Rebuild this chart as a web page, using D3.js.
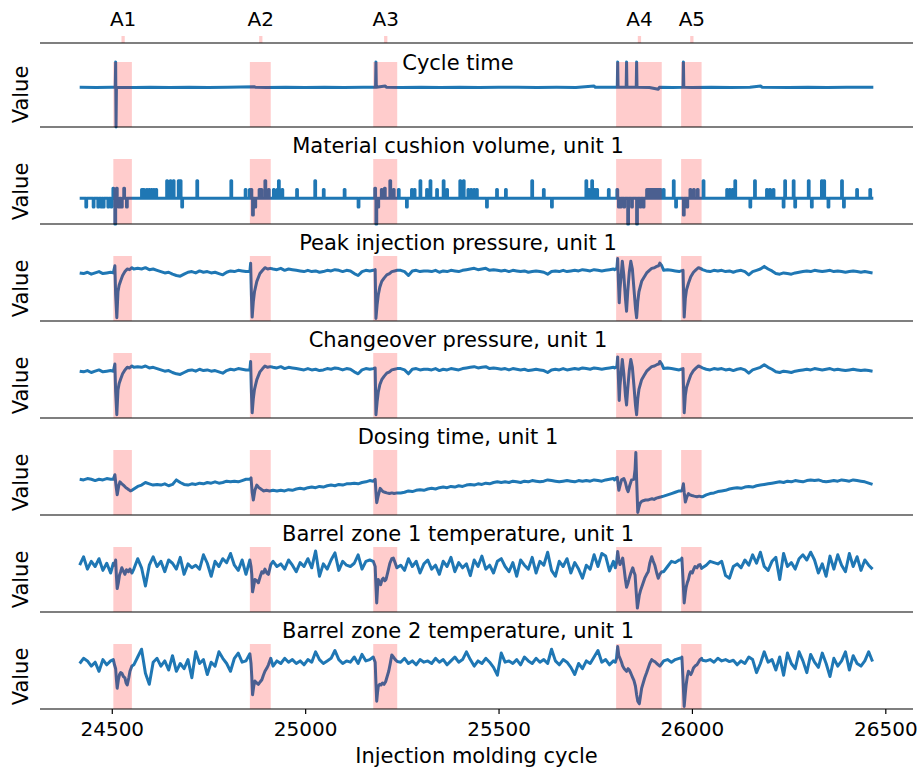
<!DOCTYPE html>
<html lang="en">
<head>
<meta charset="UTF-8">
<title>Anomalies in injection molding cycles</title>
<script src="https://d3js.org/d3.v7.min.js"></script>
<style>
    body { margin: 0; background: #fff; }
    text { font-family: "DejaVu Sans", sans-serif; fill: #000; }
    .series { fill: none; stroke: #1f77b4; stroke-width: 3; stroke-linejoin: round; }
    .spine { stroke: #000; stroke-width: 1.2; }
</style>
</head>
<body>
<svg width="919" height="776"></svg>
<script>
// first and last molding cycle shown, uniform series are sampled every 10 cycles
const cycleStart = 24417
const cycleEnd = 26469
const cycleStep = 10

// anomaly windows (cycles) and their names
const anomalies = [[24504, 24552], [24857, 24911], [25176, 25238], [25804, 25922], [25972, 26025]]
const anomalyNames = ["A1", "A2", "A3", "A4", "A5"]

const xTicks = [24500, 25000, 25500, 26000, 26500]

const titles = [
    "Cycle time",
    "Material cushion volume, unit 1",
    "Peak injection pressure, unit 1",
    "Changeover pressure, unit 1",
    "Dosing time, unit 1",
    "Barrel zone 1 temperature, unit 1",
    "Barrel zone 2 temperature, unit 1"
]

// cycle time: [cycle, value]
const cycleTime = [[24417,61],[24460,60.6],[24500,61.2],[24509,61],[24510,100],[24511,0],[24512,61],[24560,60.7],[24600,61.3],
    [24650,60.8],[24700,61.2],[24750,60.7],[24800,61],[24868,62],[24872,61],[24900,60.6],[24950,61.3],[25000,60.8],[25050,61.2],
    [25100,60.7],[25150,61],[25182,61],[25183,100],[25184,61],[25207,63],[25210,61],[25250,60.7],[25300,61.2],[25350,60.8],
    [25400,61.3],[25450,60.7],[25500,61],[25550,61.2],[25600,60.7],[25650,61],[25700,60.8],[25747,63],[25750,61],[25807,61],
    [25808,100],[25809,61],[25830,61],[25831,100],[25832,61],[25856,61],[25857,100],[25858,61],[25890,60.8],[25913,58],[25916,61],
    [25950,60.8],[25977,61],[25978,100],[25979,61],[26000,60.7],[26050,61.2],[26100,60.8],[26150,61.2],[26178,63],[26181,61],
    [26250,60.7],[26300,61.2],[26350,60.8],[26400,61.2],[26469,61]]

// material cushion volume: step levels [cycle, value]
const cushion = [[24417,39.5],
    [24433,26],[24435,39.5],[24452,26],[24454,39.5],[24464,26],[24466,39.5],[24472,26],[24474,39.5],[24478,26],[24480,39.5],
    [24490,26],[24492,39.5],[24498,26],[24500,39.5],
    [24503,55],[24505,39.5],[24508,0],[24510,39.5],[24512,55],[24514,39.5],[24517,26],[24520,39.5],[24524,26],[24527,39.5],
    [24531,55],[24533,39.5],[24538,26],[24540,39.5],
    [24577,53],[24579,39.5],[24582,53],[24584,39.5],[24590,53],[24592,39.5],[24596,53],[24598,39.5],[24602,53],[24604,39.5],
    [24608,53],[24610,39.5],[24614,53],[24616,39.5],
    [24642,66.6],[24644,39.5],[24651,66.6],[24653,39.5],[24659,66.6],[24661,39.5],[24672,66.6],[24674,39.5],[24677,66.6],[24679,39.5],
    [24681,26],[24683,39.5],[24720,66.6],[24722,39.5],[24808,66.6],[24810,39.5],[24845,53],[24847,39.5],[24856,53],[24858,39.5],
    [24860,53],[24862,39.5],[24864,14],[24866,39.5],[24870,26],[24872,39.5],[24881,53],[24883,39.5],[24886,53],[24888,39.5],
    [24896,66.6],[24898,39.5],[24905,53],[24907,39.5],
    [24918,53],[24920,39.5],[24927,53],[24929,39.5],[24931,66.6],[24933,39.5],[24940,53],[24942,39.5],[24978,53],[24980,39.5],
    [25025,66.6],[25027,39.5],[25047,53],[25049,39.5],[25101,53],[25103,39.5],[25137,26],[25139,39.5],
    [25180,55],[25182,39.5],[25183,0],[25185,39.5],[25188,26],[25190,39.5],[25197,53],[25199,39.5],[25205,55],[25207,39.5],
    [25219,66.6],[25221,39.5],[25228,53],[25230,39.5],
    [25241,53],[25243,39.5],[25262,26],[25264,39.5],[25275,53],[25277,39.5],[25282,53],[25284,39.5],[25297,66.6],[25299,39.5],
    [25314,53],[25316,39.5],[25323,66.6],[25325,39.5],[25340,53],[25342,39.5],[25357,66.6],[25359,39.5],[25366,53],[25368,39.5],
    [25400,66.6],[25402,39.5],[25409,66.6],[25411,39.5],[25421,53],[25423,39.5],[25428,53],[25430,39.5],[25436,53],[25438,39.5],
    [25443,53],[25445,39.5],[25469,26],[25471,39.5],[25495,53],[25497,39.5],[25518,53],[25520,39.5],[25586,66.6],[25588,39.5],
    [25616,53],[25618,39.5],[25637,26],[25639,39.5],[25726,66.6],[25728,39.5],[25733,53],[25735,39.5],[25741,66.6],[25743,39.5],
    [25748,53],[25750,39.5],[25754,53],[25756,39.5],[25784,53],[25786,39.5],
    [25806,53],[25808,39.5],[25810,26],[25812,39.5],[25815,26],[25817,39.5],[25824,26],[25826,39.5],[25834,0],[25836,39.5],
    [25844,26],[25846,39.5],[25857,0],[25859,39.5],[25866,26],[25868,39.5],[25874,26],[25876,39.5],[25883,53],[25885,39.5],
    [25888,53],[25890,39.5],[25893,53],[25895,39.5],[25898,53],[25900,39.5],[25903,53],[25905,39.5],[25908,53],[25910,39.5],
    [25913,53],[25915,39.5],[25918,53],[25920,39.5],
    [25926,53],[25928,39.5],[25952,66.6],[25954,39.5],[25958,26],[25960,39.5],
    [25978,14],[25980,39.5],[25987,26],[25989,39.5],[25995,53],[25997,39.5],[26004,53],[26006,39.5],[26014,53],[26016,39.5],
    [26029,66.6],[26031,39.5],
    [26090,53],[26092,39.5],[26097,53],[26099,39.5],[26104,53],[26106,39.5],[26111,66.6],[26113,39.5],[26150,26],[26152,39.5],
    [26162,66.6],[26164,39.5],[26193,53],[26195,39.5],[26201,53],[26203,39.5],[26210,53],[26212,39.5],[26236,26],[26238,39.5],
    [26240,66.6],[26242,39.5],[26262,66.6],[26264,39.5],[26266,26],[26268,39.5],[26301,66.6],[26303,39.5],[26309,26],[26311,39.5],
    [26335,66.6],[26337,39.5],[26341,66.6],[26343,39.5],[26352,26],[26354,39.5],[26387,66.6],[26389,39.5],[26392,26],[26394,39.5],
    [26426,53],[26428,39.5],[26460,53],[26462,39.5],[26469,39.5]]

// peak injection pressure, every 10 cycles (one row = 100 cycles)
const peakPressure = [
    74,73,75,72,74,76,73,74,75,74,
    60,75,80,82,80,81,80,82,79,80,
    78,76,74,75,72,70,69,72,75,76,
    74,77,75,76,74,75,73,71,75,77,
    76,78,77,76,76,10,55,70,78,80,
    80,79,81,78,80,79,78,77,76,78,
    76,77,75,76,78,77,79,78,76,78,
    77,73,70,76,78,77,78,5,50,65,
    74,77,79,78,76,70,77,78,76,77,
    77,76,78,75,77,76,78,77,76,78,
    79,80,81,79,80,81,78,79,78,77,
    78,76,78,77,76,77,75,76,77,76,
    75,72,76,77,76,78,76,77,78,77,
    79,78,77,79,78,77,78,79,80,81,
    90,60,20,80,10,70,78,82,84,85,
    86,78,79,78,77,76,77,6,50,68,
    75,79,77,76,78,77,78,76,77,75,
    77,78,76,71,76,78,80,84,80,77,
    73,72,74,73,72,74,75,76,77,76,
    78,77,76,77,78,76,77,76,75,76,
    77,76,75,76,75,74]
const peakPressureDetail = [
    [[24504,74],[24508,85],[24510,40],[24513,5],[24516,45],[24519,55],[24523,62],[24528,70],[24534,76],[24540,80],[24546,79],[24552,82]],
    [[24857,76],[24859,89],[24861,40],[24863,6],[24866,30],[24869,45],[24875,61],[24883,73],[24890,78],[24896,82],[24903,80],[24910,81]],
    [[25176,78],[25181,79],[25183,4],[25186,25],[25189,40],[25193,52],[25198,61],[25204,66],[25211,71],[25218,73],[25224,76],[25231,77],[25238,78]],
    [[25800,79],[25806,81],[25808,96],[25810,60],[25812,28],[25814,50],[25817,70],[25820,92],[25824,70],[25828,35],[25831,15],[25834,45],
     [25838,75],[25842,92],[25846,80],[25850,50],[25854,20],[25857,5],[25860,30],[25863,45],[25870,61],[25877,68],[25883,74],[25890,78],
     [25896,81],[25903,82],[25909,84],[25914,85],[25917,89],[25922,85]],
    [[25972,77],[25977,78],[25980,6],[25983,35],[25986,48],[25991,58],[25997,68],[26004,75],[26011,79],[26017,82],[26025,80]]
]

// changeover pressure
const changeover = [
    72,71,73,70,72,74,71,72,73,72,
    60,73,78,80,78,79,78,80,77,78,
    76,74,72,73,70,68,67,70,73,74,
    72,75,73,74,72,73,71,69,73,75,
    74,76,75,74,74,10,55,70,76,78,
    78,77,79,76,78,77,76,75,74,76,
    74,75,73,74,76,75,77,76,74,76,
    75,71,68,74,76,75,76,5,50,65,
    72,75,77,76,74,68,75,76,74,75,
    75,74,76,73,75,74,76,75,74,76,
    77,78,79,77,78,79,76,77,76,75,
    76,74,76,75,74,75,73,74,75,74,
    73,70,74,75,74,76,74,75,76,75,
    77,76,75,77,76,75,76,77,78,79,
    88,60,25,78,20,70,76,80,82,83,
    84,76,77,76,75,74,75,8,50,66,
    73,77,75,74,76,75,76,74,75,73,
    75,76,74,69,74,76,78,82,78,75,
    71,70,72,71,70,72,73,74,75,74,
    76,75,74,75,76,74,75,74,73,74,
    75,74,73,74,73,72]
const changeoverDetail = [
    [[24504,72],[24508,83],[24510,40],[24513,5],[24516,43],[24519,53],[24523,60],[24528,68],[24534,74],[24540,78],[24546,77],[24552,80]],
    [[24857,74],[24859,87],[24861,40],[24863,8],[24866,30],[24869,44],[24875,59],[24883,71],[24890,76],[24896,80],[24903,78],[24910,79]],
    [[25176,76],[25181,77],[25183,5],[25186,25],[25189,40],[25193,51],[25198,59],[25204,64],[25211,69],[25218,71],[25224,74],[25231,75],[25238,76]],
    [[25800,77],[25806,79],[25808,94],[25810,60],[25812,27],[25814,50],[25817,70],[25820,90],[25824,68],[25828,35],[25831,20],[25834,45],
     [25838,73],[25842,90],[25846,78],[25850,50],[25854,20],[25857,5],[25860,30],[25863,44],[25870,59],[25877,66],[25883,72],[25890,76],
     [25896,79],[25903,80],[25909,82],[25914,83],[25917,87],[25922,83]],
    [[25972,75],[25977,76],[25980,8],[25983,35],[25986,47],[25991,56],[25997,66],[26004,73],[26011,77],[26017,80],[26025,78]]
]

// dosing time
const dosingTime = [
    55,54,56,55,53,55,54,56,55,55,
    50,45,40,38,40,44,46,50,48,46,
    47,46,48,45,47,54,50,47,46,48,
    47,49,48,50,49,51,49,50,52,51,
    52,51,53,55,55,23,46,41,37,37,
    38,37,38,37,39,38,40,41,40,42,
    43,42,44,43,45,46,45,47,46,48,
    48,49,48,50,51,53,55,19,41,35,
    34,33,33,34,35,37,36,38,39,38,
    40,41,40,42,43,42,44,43,45,44,
    46,47,46,48,47,49,48,50,51,50,
    51,50,52,51,50,52,51,53,52,51,
    52,54,53,52,51,52,53,52,51,53,
    52,53,52,54,53,52,54,55,56,57,
    54,36,54,96,18,22,24,25,26,26,
    28,29,31,33,35,37,48,20,33,30,
    29,28,31,33,34,36,37,38,40,41,
    42,41,43,44,43,45,46,47,48,49,
    50,51,50,52,51,53,52,51,53,54,
    53,54,52,51,52,53,52,54,53,52,
    54,53,52,51,49,47]
const dosingTimeDetail = [
    [[24504,55],[24508,62],[24511,45],[24514,31],[24518,45],[24521,51],[24526,48],[24530,46],[24535,43],[24539,41],[24544,39],[24548,37],[24552,38]],
    [[24857,55],[24860,57],[24863,35],[24866,23],[24870,38],[24875,46],[24879,43],[24883,41],[24888,39],[24892,37],[24900,38],[24908,37]],
    [[25176,52],[25181,55],[25183,35],[25185,19],[25189,30],[25194,41],[25198,38],[25201,36],[25206,35],[25211,34],[25218,33],[25224,34],[25230,33],[25238,34]],
    [[25800,54],[25804,57],[25807,58],[25809,48],[25811,38],[25814,45],[25818,54],[25824,56],[25828,50],[25832,40],[25835,36],[25839,45],
     [25844,54],[25850,55],[25853,70],[25855,96],[25857,55],[25860,4],[25863,12],[25866,18],[25870,21],[25874,22],[25880,23],[25886,23],
     [25891,24],[25897,25],[25902,24],[25908,26],[25914,27],[25921,28]],
    [[25972,37],[25975,39],[25978,48],[25980,35],[25983,20],[25987,28],[25991,33],[25995,31],[26000,30],[26006,29],[26013,28],[26019,29],[26025,28]]
]

// barrel zone 1 temperature
const barrel1 = [
    72,85,66,78,70,82,64,75,60,78,
    80,60,62,60,66,82,68,40,72,85,
    70,78,62,80,75,66,84,58,74,68,
    72,66,88,75,55,78,70,82,76,90,
    72,64,80,58,80,31,45,62,60,73,
    78,70,74,66,80,72,62,76,70,82,
    68,94,55,74,66,80,91,64,78,72,
    70,75,88,66,78,80,70,14,42,52,
    75,83,68,72,64,82,70,78,60,74,
    80,66,72,58,78,70,84,62,76,68,
    74,56,80,70,86,66,72,60,78,82,
    70,62,76,55,80,72,66,84,60,78,
    72,92,64,55,78,70,82,60,76,66,
    52,72,66,88,70,90,86,63,78,70,
    93,83,50,52,57,18,38,58,75,85,
    58,62,70,78,76,80,83,14,38,60,
    66,68,72,78,76,74,78,56,52,70,
    74,68,80,72,88,75,92,70,64,78,
    84,50,90,70,76,66,82,88,80,92,
    80,60,74,55,86,66,88,72,62,90,
    70,85,64,80,72,66]
const barrel1Detail = [
    [[24504,75],[24507,72],[24510,80],[24512,55],[24514,36],[24517,45],[24520,57],[24523,62],[24526,68],[24530,63],[24534,58],[24538,65],[24543,62],[24547,66],[24552,60]],
    [[24857,80],[24860,70],[24862,58],[24864,31],[24867,40],[24870,50],[24875,48],[24879,45],[24884,55],[24888,62],[24892,60],[24896,66],[24901,60],[24905,58],[24911,73]],
    [[25176,78],[25181,70],[25183,40],[25185,14],[25187,35],[25189,50],[25192,45],[25195,42],[25199,50],[25202,52],[25206,48],[25209,50],[25214,62],[25219,75],
     [25224,82],[25228,83],[25233,75],[25237,68]],
    [[25802,68],[25805,75],[25808,93],[25811,80],[25814,73],[25818,78],[25821,83],[25825,65],[25828,50],[25831,38],[25835,45],[25838,52],[25842,60],[25847,68],
     [25850,62],[25853,57],[25856,30],[25859,6],[25862,18],[25864,26],[25867,33],[25870,38],[25874,45],[25878,52],[25883,58],[25887,62],[25891,75],[25896,85],
     [25900,78],[25904,72],[25909,60],[25913,52],[25917,58],[25922,62]],
    [[25972,80],[25974,83],[25977,50],[25980,14],[25983,30],[25985,38],[25988,45],[25991,50],[25994,58],[25997,62],[26001,60],[26004,65],[26008,70],[26013,68],
     [26017,72],[26021,73],[26025,67]]
]

// barrel zone 2 temperature
const barrel2 = [
    70,78,74,66,72,58,76,68,74,72,
    55,50,40,60,68,80,92,55,38,72,
    78,66,74,60,82,58,70,62,76,48,
    88,70,76,53,72,66,88,78,70,58,
    78,86,72,74,85,22,42,40,45,58,
    66,74,70,78,72,76,70,74,68,76,
    72,88,76,70,74,78,90,76,70,74,
    72,80,70,84,74,76,80,12,38,40,
    58,83,76,72,78,70,74,68,76,72,
    74,70,78,72,76,68,74,80,72,76,
    88,76,66,74,70,78,72,64,52,86,
    72,74,70,76,68,80,74,70,78,72,
    76,70,92,74,68,76,72,64,53,70,
    62,74,70,80,90,72,76,68,74,78,
    90,72,62,58,60,48,20,8,40,56,
    70,74,76,72,76,78,80,4,50,58,
    70,75,74,76,72,78,74,76,73,75,
    68,74,70,80,76,56,70,88,72,76,
    60,80,52,86,70,62,88,74,56,84,
    72,64,86,70,50,78,66,74,88,60,
    82,70,66,74,88,73]
const barrel2Detail = [
    [[24504,76],[24507,68],[24510,62],[24512,45],[24514,32],[24517,45],[24520,53],[24523,56],[24526,55],[24530,50],[24534,48],[24537,40],[24540,37],[24544,48],
     [24547,58],[24552,66]],
    [[24857,85],[24860,70],[24862,50],[24864,22],[24867,35],[24870,43],[24875,40],[24879,38],[24884,42],[24888,45],[24892,52],[24896,58],[24901,63],[24905,68],[24911,78]],
    [[25176,80],[25181,72],[25183,40],[25185,12],[25187,25],[25189,35],[25193,38],[25196,37],[25200,40],[25204,38],[25208,42],[25212,50],[25216,58],[25220,70],
     [25224,83],[25228,80],[25233,76],[25238,73]],
    [[25802,72],[25805,78],[25808,96],[25811,82],[25814,78],[25818,72],[25821,66],[25825,62],[25828,60],[25831,58],[25835,62],[25838,60],[25842,55],[25847,48],
     [25850,44],[25854,35],[25857,22],[25860,12],[25864,8],[25867,20],[25870,32],[25874,40],[25878,48],[25883,56],[25887,63],[25891,70],[25896,76],[25900,74],
     [25904,73],[25909,70],[25913,68],[25917,66],[25922,70]],
    [[25972,78],[25974,80],[25977,45],[25980,4],[25983,25],[25985,37],[25988,50],[25991,58],[25994,55],[25997,53],[26001,58],[26004,63],[26008,66],[26013,68],
     [26017,72],[26021,76],[26025,78]]
]

// turn a uniform series into [cycle, value] and splice in the finer anomaly readings
function withDetail(values, blocks) {
    let pts = values.map((v, i) => [cycleStart + i * cycleStep, v])
    blocks.forEach(b => {
        let lo = b[0][0], hi = b[b.length - 1][0]
        pts = pts.filter(p => p[0] < lo || p[0] > hi).concat(b)
    })
    return pts.sort((a, b) => a[0] - b[0])
}

const panels = [
    {data: cycleTime, curve: d3.curveLinear},
    {data: cushion, curve: d3.curveStepAfter},
    {data: withDetail(peakPressure, peakPressureDetail), curve: d3.curveLinear},
    {data: withDetail(changeover, changeoverDetail), curve: d3.curveLinear},
    {data: withDetail(dosingTime, dosingTimeDetail), curve: d3.curveLinear},
    {data: withDetail(barrel1, barrel1Detail), curve: d3.curveLinear},
    {data: withDetail(barrel2, barrel2Detail), curve: d3.curveLinear}
]

let svg = d3.select("svg")
const left = 40, right = 913
const firstTop = 62, panelH = 65, panelGap = 32

// 5% margin each side, like the default plotting margins
let pad = (cycleEnd - cycleStart) * 0.05
let x = d3.scaleLinear().domain([cycleStart - pad, cycleEnd + pad]).range([left, right])

panels.forEach((p, k) => {
    let top = firstTop + k * (panelH + panelGap)
    let bottom = top + panelH
    let y = d3.scaleLinear().domain([0, 100]).range([bottom, top])
    let g = svg.append("g")

    let line = d3.line().curve(p.curve).x(d => x(d[0])).y(d => y(d[1]))
    g.append("path").attr("class", "series").attr("d", line(p.data))

    // shaded anomaly windows go over the line
    g.selectAll("rect").data(anomalies).enter().append("rect")
        .attr("x", d => x(d[0]))
        .attr("width", d => x(d[1]) - x(d[0]))
        .attr("y", top)
        .attr("height", panelH)
        .attr("fill", "rgba(255,0,0,0.2)")

    g.append("line").attr("class", "spine")
        .attr("x1", left).attr("x2", right).attr("y1", bottom).attr("y2", bottom)

    g.append("text")
        .attr("x", 458)
        .attr("y", k === 0 ? top + 8 : top - 6)
        .attr("text-anchor", "middle")
        .style("font-size", "21px")
        .text(titles[k])

    g.append("text")
        .attr("transform", `translate(28,${(top + bottom) / 2}) rotate(-90)`)
        .attr("text-anchor", "middle")
        .style("font-size", "21px")
        .text("Value")

    if (k === panels.length - 1) {
        let ax = g.append("g").attr("transform", `translate(0,${bottom})`)
            .call(d3.axisBottom(x).tickValues(xTicks).tickFormat(d3.format("d")).tickSize(5).tickPadding(8).tickSizeOuter(0))
        ax.select(".domain").remove()
        ax.selectAll("line").attr("stroke", "#000").attr("stroke-width", 1.2)
        ax.selectAll("text").style("font-size", "20px").attr("font-family", null)
        svg.append("text")
            .attr("x", (left + right) / 2)
            .attr("y", 763)
            .attr("text-anchor", "middle")
            .style("font-size", "21px")
            .text("Injection molding cycle")
    }
})

// top axis naming the anomalies
let topAxis = svg.append("g").attr("transform", "translate(0,43)")
    .call(d3.axisTop(x)
        .tickValues(anomalies.map(a => (a[0] + a[1]) / 2))
        .tickFormat((d, i) => anomalyNames[i])
        .tickSize(7).tickPadding(10).tickSizeOuter(0))
topAxis.select(".domain").remove()
topAxis.selectAll(".tick line").attr("stroke", "rgba(255,0,0,0.2)").attr("stroke-width", 3.3)
topAxis.selectAll("text").style("font-size", "20px").attr("font-family", null)
svg.append("line").attr("class", "spine")
    .attr("x1", left).attr("x2", right).attr("y1", 43).attr("y2", 43)
</script>
</body>
</html>
